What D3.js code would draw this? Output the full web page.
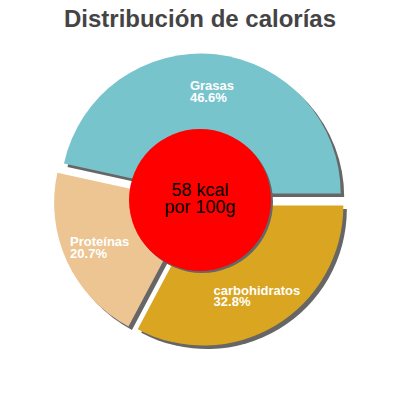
<!DOCTYPE html>
<html lang="es">
    <head>
        <meta charset="utf-8">
        <style>
            body { margin: 0; background: #fff; }
            text { font-family: "Liberation Sans", Arial, sans-serif; }
            .title { font-weight: bold; fill: #444; font-size: 24px; }
            .slice-label { font-weight: bold; fill: #fff; font-size: 13px; }
            .center-text { fill: #000; font-size: 18px; }
        </style>
        <script src="https://d3js.org/d3.v7.min.js"></script>
        <title>Distribución de calorías</title>
    </head>
    <body>
        <div id="chart"></div>
        <script>
            // data
            var categories = ["carbohidratos", "Proteínas", "Grasas"];
            var percents = [32.8, 20.7, 46.6];
            var kcal = 58;
            var titleText = "Distribución de calorías";

            var sliceColors = ["#daa520", "#edc592", "#78c4cc"];

            var width = 400, height = 400,
                cx = 200, cy = 200,
                radius = 140,
                explode = 6.5,
                labelRadius = 104;

            var data = categories.map(function(c, i) { return {name: c, value: percents[i]}; });

            var svg = d3.select("#chart")
                .append("svg")
                    .attr("width", width)
                    .attr("height", height);

            svg.append("text")
                .attr("class", "title")
                .attr("x", width / 2)
                .attr("y", 27)
                .attr("text-anchor", "middle")
                .text(titleText);

            var color = d3.scaleOrdinal()
                .domain(categories)
                .range(sliceColors);

            var pie = d3.pie()
                .sort(null)
                .value(function(d) { return d.value; })
                .startAngle(Math.PI / 2)
                .endAngle(Math.PI / 2 + 2 * Math.PI);

            var arc = d3.arc().innerRadius(0).outerRadius(radius);
            var labelArc = d3.arc().innerRadius(labelRadius).outerRadius(labelRadius);

            var arcs = pie(data);

            function shift(d) {
                var a = (d.startAngle + d.endAngle) / 2;
                return [Math.sin(a) * explode, -Math.cos(a) * explode];
            }

            var g = svg.append("g")
                .attr("transform", "translate(" + cx + "," + cy + ")");

            // shadows first
            g.selectAll(".shadow")
                .data(arcs)
                .enter().append("path")
                    .attr("class", "shadow")
                    .attr("fill", "#666")
                    .attr("d", arc)
                    .attr("transform", function(d) {
                        var s = shift(d);
                        return "translate(" + (s[0] + 3.5) + "," + (s[1] + 3.5) + ")";
                    });

            g.selectAll(".slice")
                .data(arcs)
                .enter().append("path")
                    .attr("class", "slice")
                    .attr("fill", function(d) { return color(d.data.name); })
                    .attr("d", arc)
                    .attr("transform", function(d) {
                        var s = shift(d);
                        return "translate(" + s[0] + "," + s[1] + ")";
                    });

            // labels: two left-aligned lines, block centred on the label arc
            arcs.forEach(function(d) {
                var s = shift(d);
                var c = labelArc.centroid(d);
                var lx = c[0] + s[0], ly = c[1] + s[1];
                var t = g.append("text")
                    .attr("class", "slice-label")
                    .attr("y", ly);
                t.append("tspan").attr("x", 0).text(d.data.name);
                t.append("tspan").attr("x", 0).attr("dy", 11.5).text(d.data.value.toFixed(1) + "%");
                var w = t.node().getBBox().width;
                t.selectAll("tspan").attr("x", lx - w / 2);
            });

            // centre circle
            var inner = radius / 2 + 1;
            g.append("circle")
                .attr("cx", 2).attr("cy", 2)
                .attr("r", inner)
                .attr("fill", "#666");
            g.append("circle")
                .attr("r", inner)
                .attr("fill", "#ff0000");

            g.append("text")
                .attr("class", "center-text")
                .attr("text-anchor", "middle")
                .attr("y", -4)
                .text(kcal + " kcal");
            g.append("text")
                .attr("class", "center-text")
                .attr("text-anchor", "middle")
                .attr("y", 13)
                .text("por 100g");
        </script>
    </body>
</html>
